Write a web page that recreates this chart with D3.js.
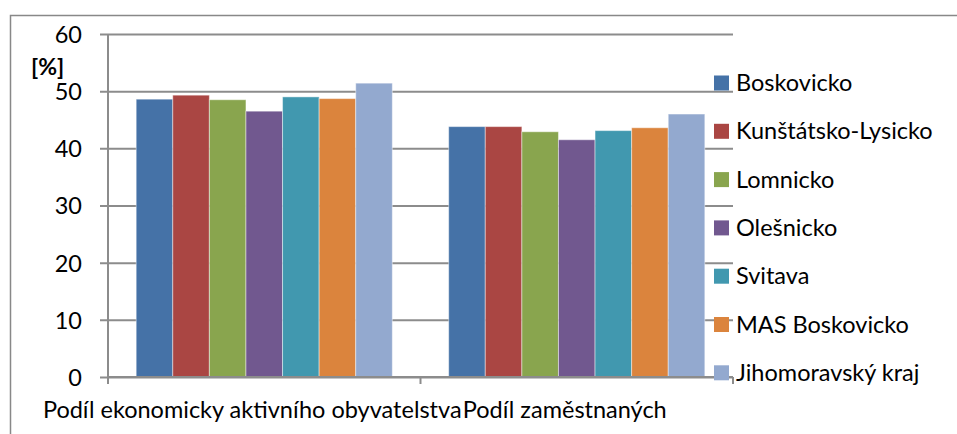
<!DOCTYPE html>
<html><head><meta charset="utf-8">
<script src="https://cdn.jsdelivr.net/npm/d3@7/dist/d3.min.js"></script>
<style>body{margin:0;background:#fff}svg{display:block}text{font-family:Lato,"Noto Sans",sans-serif;fill:#000}</style>
</head><body><svg id="c" width="957" height="434"></svg>
<script>
const categories = ["Podíl ekonomicky aktivního obyvatelstva", "Podíl zaměstnaných"];
const seriesNames = ["Boskovicko","Kunštátsko-Lysicko","Lomnicko","Olešnicko","Svitava","MAS Boskovicko","Jihomoravský kraj"];
const valuesAktivni = [48.6, 49.3, 48.5, 46.5, 49.0, 48.7, 51.4];
const valuesZamestnani = [43.8, 43.8, 42.9, 41.5, 43.1, 43.6, 46.0];
const colors = ["#4572A7","#AA4643","#89A54E","#71588F","#4198AF","#DB843D","#93A9CF"];
const yTicks = [0,10,20,30,40,50,60];
const yUnit = "[%]";

const seriesValues = [valuesAktivni, valuesZamestnani];
const svg = d3.select("#c");
const W = 957, H = 434;
const mL = 108, mR = 733, mT = 34, mB = 377;
const fs = 23.5;

// outer frame
svg.append("rect").attr("x",10.5).attr("y",15.5).attr("width",W).attr("height",H).attr("fill","none").attr("stroke","#888").attr("stroke-width",1.5);

const y = d3.scaleLinear().domain([0,60]).range([mB, mT]);
const x0 = d3.scaleBand().domain(categories).range([mL, mR]).padding(0);
const x1 = d3.scaleBand().domain(seriesNames).range([0, x0.bandwidth()]).paddingInner(0).paddingOuter(0.77);

// gridlines
const yAxis = d3.axisLeft(y).tickValues(yTicks).tickSize(-(mR-mL)).tickPadding(0).tickFormat(d=>d);
const gy = svg.append("g").attr("transform",`translate(${mL},0)`).call(yAxis);
gy.select(".domain").remove();
gy.selectAll(".tick line").attr("x1",-8).attr("stroke","#8c8c8c").attr("stroke-width",2);
gy.selectAll(".tick text").attr("x",-26).attr("dy","0.36em").attr("fill","#000").style("font-size",fs+"px").style("font-family","Lato");

// bars
categories.forEach((c,ci)=>{
  svg.append("g").selectAll("rect").data(seriesNames).join("rect")
    .attr("x", s => x0(c)+x1(s))
    .attr("width", x1.bandwidth())
    .attr("y", (s,i) => y(seriesValues[ci][i]))
    .attr("height", (s,i) => y(0)-y(seriesValues[ci][i]))
    .attr("fill", (s,i)=>colors[i])
    .attr("stroke","rgba(255,255,255,0.45)").attr("stroke-width",1);
});

// x axis
const xAxis = d3.axisBottom(x0).tickSize(0).tickFormat("");
const gx = svg.append("g").attr("transform",`translate(0,${mB})`).call(xAxis);
gx.select(".domain").attr("stroke","#8c8c8c").attr("stroke-width",2).attr("d",`M${mL},0H${mR}`);
const bounds = [mL, ...categories.map(c=>x0(c)+x0.bandwidth())];
svg.append("g").selectAll("line").data(bounds).join("line")
  .attr("x1",d=>d).attr("x2",d=>d).attr("y1",mB).attr("y2",mB+7)
  .attr("stroke","#8c8c8c").attr("stroke-width",2);
svg.append("line").attr("x1",mL).attr("x2",mL).attr("y1",mT).attr("y2",mB+7).attr("stroke","#8c8c8c").attr("stroke-width",2);

// category labels
svg.append("g").selectAll("text").data(categories).join("text")
  .attr("x", c => x0(c)+x0.bandwidth()/2 - 12)
  .attr("y", 418)
  .attr("text-anchor","middle")
  .style("font-size",fs+"px")
  .text(c=>c);

// unit label
svg.append("text").attr("x",31).attr("y",75).style("font-size","23px").style("font-weight","bold").text(yUnit);

// legend
const lg = svg.append("g");
seriesNames.forEach((s,i)=>{
  const cy = 83 + i*48.3;
  lg.append("rect").attr("x",714).attr("y",cy-7.5).attr("width",15).attr("height",15).attr("fill",colors[i]);
  lg.append("text").attr("x",736).attr("y",cy+8).style("font-size",fs+"px").text(s);
});
</script></body></html>
